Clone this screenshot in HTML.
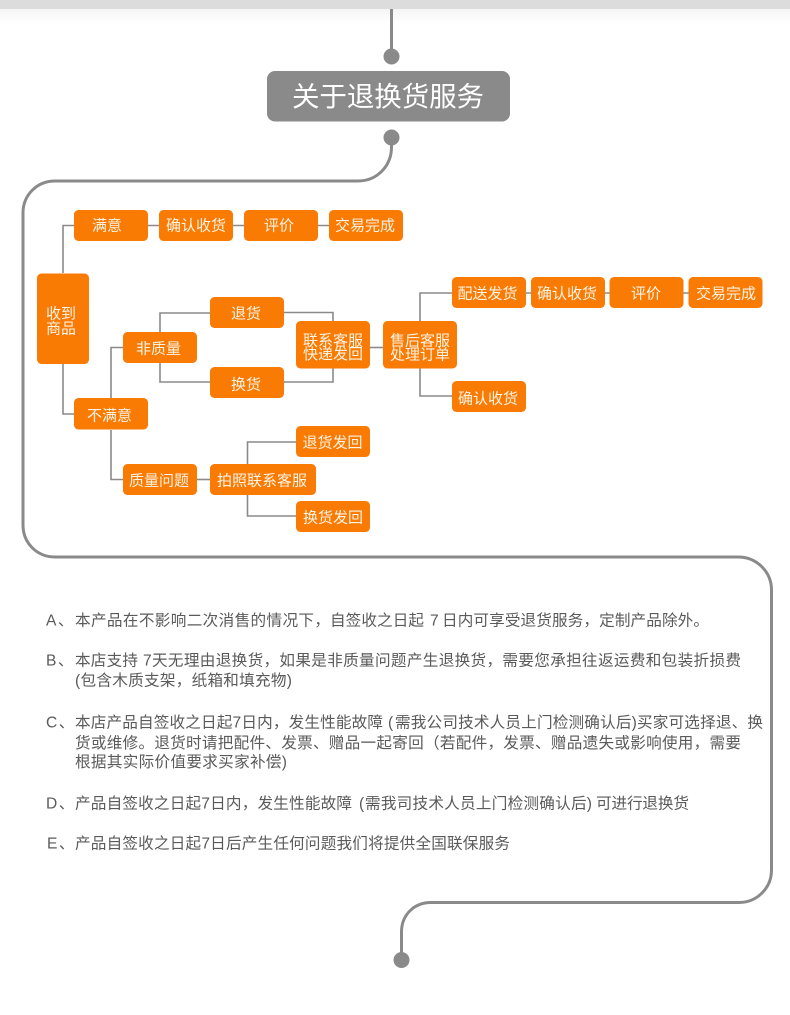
<!DOCTYPE html>
<html lang="zh-CN">
<head>
<meta charset="utf-8">
<title>关于退换货服务</title>
<style>
html,body{margin:0;padding:0;background:#fff;}
body{width:790px;height:1015px;overflow:hidden;}
svg{display:block;filter:blur(0.25px);}
text{font-family:"Liberation Sans","Noto Sans CJK SC",sans-serif;}
.n text,text.n{font-size:15px;fill:#fff3e4;}
.b text{font-size:15.6px;fill:#5a5a5a;}
.b text.l{letter-spacing:1.5px;}
</style>
</head>
<body>
<svg width="790" height="1015" viewBox="0 0 790 1015" xmlns="http://www.w3.org/2000/svg">
<defs>
<linearGradient id="g" x1="0" y1="0" x2="0" y2="1"><stop offset="0" stop-color="#f5f5f5"/><stop offset="1" stop-color="#ffffff"/></linearGradient>
</defs>
<rect x="0" y="0" width="790" height="9" fill="#dcdcdc"/>
<rect x="0" y="9" width="790" height="14" fill="url(#g)"/>

<!-- main route -->
<g fill="none" stroke="#8a8a8a">
<path d="M391.5 9V56" stroke-width="3"/>
<path d="M391.5 137V147C391.5 166 377 181 358 181H55C37 181 23 195 23 213V525C23 543 37 557 55 557H738C757 557 771.5 572 771.5 590V870C771.5 888 757 902.5 739 902.5H431C414 902.5 401.5 915 401.5 932V960" stroke-width="3"/>
</g>
<g fill="#8a8a8a">
<circle cx="391.5" cy="56.5" r="8"/>
<circle cx="391.5" cy="137.5" r="8"/>
<circle cx="401.5" cy="960" r="8"/>
<rect x="267" y="71" width="243" height="50.5" rx="8"/>
</g>
<text x="292" y="106" font-size="27.5" fill="#ffffff" textLength="192">关于退换货服务</text>

<!-- connectors -->
<g fill="none" stroke="#8a8a8a" stroke-width="1.6">
<path d="M63 273V225.5H74"/>
<path d="M63 364V414H74"/>
<path d="M148 225.5H329"/>
<path d="M111 398V347.5H123"/>
<path d="M111 430V479.5H123"/>
<path d="M160 332V313H210"/>
<path d="M160 363V382H210"/>
<path d="M284 312.5H333V321"/>
<path d="M284 382H333V368"/>
<path d="M370 347.5H383"/>
<path d="M197 479.5H210"/>
<path d="M247.5 464V442H296"/>
<path d="M247.5 495V516H296"/>
<path d="M420 321V293H452"/>
<path d="M420 368V396H452"/>
<path d="M526 293H689"/>
</g>

<!-- nodes -->
<g fill="#f97b04">
<rect x="74" y="210" width="74" height="31" rx="4.5"/>
<rect x="159" y="210" width="74" height="31" rx="4.5"/>
<rect x="244" y="210" width="74" height="31" rx="4.5"/>
<rect x="329" y="210" width="74" height="31" rx="4.5"/>
<rect x="37" y="273.5" width="52" height="90.5" rx="4.5"/>
<rect x="210" y="297" width="74" height="31" rx="4.5"/>
<rect x="123" y="332" width="74" height="31" rx="4.5"/>
<rect x="210" y="367" width="74" height="31" rx="4.5"/>
<rect x="296" y="321" width="74" height="47.5" rx="4.5"/>
<rect x="74" y="398" width="74" height="31.5" rx="4.5"/>
<rect x="296" y="426" width="74" height="31" rx="4.5"/>
<rect x="123" y="464" width="74" height="31" rx="4.5"/>
<rect x="210" y="464" width="106" height="31" rx="4.5"/>
<rect x="296" y="501" width="74" height="31" rx="4.5"/>
<rect x="383" y="321" width="74" height="47.5" rx="4.5"/>
<rect x="452" y="277" width="74" height="31" rx="4.5"/>
<rect x="531" y="277" width="74" height="31" rx="4.5"/>
<rect x="609.5" y="277" width="74" height="31" rx="4.5"/>
<rect x="688.5" y="277" width="74" height="31" rx="4.5"/>
<rect x="452" y="381" width="74" height="31" rx="4.5"/>
</g>

<g class="n">
<text x="92" y="230.5">满意</text>
<text x="166" y="230.5">确认收货</text>
<text x="264" y="230.5">评价</text>
<text x="335" y="230.5">交易完成</text>
<text x="46" y="318.5">收到</text>
<text x="46" y="333.5">商品</text>
<text x="231" y="318.5">退货</text>
<text x="136" y="353.5">非质量</text>
<text x="231" y="389.5">换货</text>
<text x="303" y="345.5">联系客服</text>
<text x="303" y="359">快递发回</text>
<text x="87" y="420.5">不满意</text>
<text x="302.5" y="447.5">退货发回</text>
<text x="129" y="485.5">质量问题</text>
<text x="217" y="485.5">拍照联系客服</text>
<text x="303" y="522.5">换货发回</text>
<text x="390" y="345.5">售后客服</text>
<text x="390" y="359.5">处理订单</text>
<text x="457.5" y="298.5">配送发货</text>
<text x="537" y="298.5">确认收货</text>
<text x="631" y="298.5">评价</text>
<text x="696" y="298.5">交易完成</text>
<text x="458" y="403.5">确认收货</text>
</g>

<!-- body text -->
<g class="b">
<text class="l" x="46" y="625.5">A、</text>
<text x="75" y="625.5" textLength="255">本产品在不影响二次消售的情况下，</text>
<text x="330" y="625.5" textLength="94">自签收之日起</text>
<text x="430" y="625.5">7</text>
<text x="442" y="625.5" textLength="267">日内可享受退货服务，定制产品除外。</text>

<text class="l" x="46" y="665.5">B、</text>
<text x="75" y="665.5" textLength="63">本店支持</text>
<text x="143" y="665.5">7</text>
<text x="152" y="665.5" textLength="589">天无理由退换货，如果是非质量问题产生退换货，需要您承担往返运费和包装折损费</text>
<text x="75" y="685.5" textLength="217">(包含木质支架，纸箱和填充物)</text>

<text class="l" x="46" y="727.5">C、</text>
<text x="75" y="727.5" textLength="308">本店产品自签收之日起7日内，发生性能故障</text>
<text x="388" y="727.5">(</text>
<text x="395" y="727.5" textLength="368">需我公司技术人员上门检测确认后)买家可选择退、换</text>
<text x="75" y="748" textLength="666">货或维修。退货时请把配件、发票、赠品一起寄回（若配件，发票、赠品遗失或影响使用，需要</text>
<text x="75" y="767" textLength="212">根据其实际价值要求买家补偿)</text>

<text class="l" x="46" y="808.5">D、</text>
<text x="75" y="808.5" textLength="277">产品自签收之日起7日内，发生性能故障</text>
<text x="359" y="808.5">(</text>
<text x="365" y="808.5" textLength="227">需我司技术人员上门检测确认后)</text>
<text x="596" y="808.5" textLength="93">可进行退换货</text>

<text class="l" x="47" y="848.5">E、</text>
<text x="75" y="848.5" textLength="435">产品自签收之日起7日后产生任何问题我们将提供全国联保服务</text>
</g>
</svg>
</body>
</html>
